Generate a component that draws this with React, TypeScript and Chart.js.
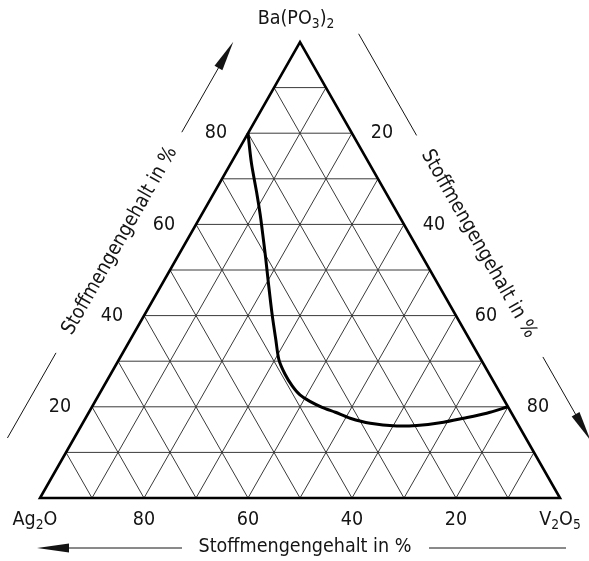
import React, { useEffect, useRef } from "react";
import { Chart, registerables } from "chart.js";

Chart.register(...registerables);

// Components (corners)
const compLeft = [{ t: "Ag" }, { t: "2", sub: true }, { t: "O" }];
const compRight = [{ t: "V" }, { t: "2", sub: true }, { t: "O" }, { t: "5", sub: true }];
const compTop = [{ t: "Ba(PO" }, { t: "3", sub: true }, { t: ")" }, { t: "2", sub: true }];
const axisTitle = "Stoffmengengehalt in %";

// Tick labels (percent)
const leftTicks = [80, 60, 40, 20]; // Ba(PO3)2 content along left edge
const rightTicks = [20, 40, 60, 80]; // V2O5 content along right edge
const bottomTicks = [80, 60, 40, 20]; // Ag2O content along base
const gridLevels = [10, 20, 30, 40, 50, 60, 70, 80, 90];

// Boundary curve: composition in mol-% (Ag2O = 100 - Ba(PO3)2 - V2O5)
const curveBa = [80, 73.5, 67.1, 62.1, 57.7, 52.6, 47.4, 40.6, 34.7, 30.3, 27.2, 24.6, 22.6, 21.2, 19.9, 18.8, 17.5, 16.4, 15.8, 15.9, 16.5, 17.5, 18.6, 20];
const curveV2O5 = [0, 3.9, 8.1, 11.3, 14.0, 17.1, 20.2, 24.3, 28.0, 30.8, 33.5, 36.2, 38.7, 41.3, 44.3, 47.4, 50.9, 55.3, 60.7, 64.5, 68.7, 72.7, 76.6, 80];

const FONT = '"DejaVu Sans", sans-serif';
const FS = 20; // font size
const SUB = 14; // subscript size
const SX = 0.88; // horizontal condensing of the lettering
const INK = "#141414";

type Pt = { x: number; y: number };

function txt(ctx: CanvasRenderingContext2D, s: string, x: number, y: number, rot = 0, size = FS) {
  ctx.save();
  ctx.translate(x, y);
  if (rot) ctx.rotate(rot);
  ctx.scale(SX, 1);
  ctx.font = `${size}px ${FONT}`;
  ctx.textAlign = "center";
  ctx.textBaseline = "middle";
  ctx.fillText(s, 0, 0);
  ctx.restore();
}

function drawRich(ctx: CanvasRenderingContext2D, parts: { t: string; sub?: boolean }[], cx: number, cy: number) {
  const widths = parts.map((p) => {
    ctx.font = `${p.sub ? SUB : FS}px ${FONT}`;
    return ctx.measureText(p.t).width * SX;
  });
  const total = widths.reduce((a, b) => a + b, 0);
  let x = cx - total / 2;
  parts.forEach((p, i) => {
    txt(ctx, p.t, x + widths[i] / 2, p.sub ? cy + 5 : cy, 0, p.sub ? SUB : FS);
    x += widths[i];
  });
}

function arrowHead(ctx: CanvasRenderingContext2D, tip: Pt, dir: Pt, len: number, hw: number) {
  const bx = tip.x - dir.x * len;
  const by = tip.y - dir.y * len;
  const nx = -dir.y;
  const ny = dir.x;
  ctx.beginPath();
  ctx.moveTo(tip.x, tip.y);
  ctx.lineTo(bx + nx * hw, by + ny * hw);
  ctx.lineTo(bx - nx * hw, by - ny * hw);
  ctx.closePath();
  ctx.fill();
}

function seg(ctx: CanvasRenderingContext2D, a: Pt, b: Pt) {
  ctx.beginPath();
  ctx.moveTo(a.x, a.y);
  ctx.lineTo(b.x, b.y);
  ctx.stroke();
}

const ternaryPlugin = {
  id: "ternary",
  beforeDatasetsDraw(chart: any) {
    const { ctx } = chart;
    const xs = chart.scales.x;
    const ys = chart.scales.y;
    const P = (ba: number, v: number): Pt => ({ x: xs.getPixelForValue(v + ba / 2), y: ys.getPixelForValue(ba) });
    ctx.save();
    ctx.strokeStyle = "#3a3a3a";
    ctx.lineWidth = 1;
    for (const g of gridLevels) {
      seg(ctx, P(g, 0), P(g, 100 - g)); // constant Ba(PO3)2
      seg(ctx, P(0, g), P(100 - g, g)); // constant V2O5
      seg(ctx, P(0, 100 - g), P(100 - g, 0)); // constant Ag2O
    }
    ctx.strokeStyle = "#000";
    ctx.lineWidth = 2.6;
    ctx.lineJoin = "miter";
    const A = P(0, 0), V = P(0, 100), B = P(100, 0);
    ctx.beginPath();
    ctx.moveTo(A.x, A.y);
    ctx.lineTo(V.x, V.y);
    ctx.lineTo(B.x, B.y);
    ctx.closePath();
    ctx.stroke();
    ctx.restore();
  },
  afterDraw(chart: any) {
    const { ctx } = chart;
    const xs = chart.scales.x;
    const ys = chart.scales.y;
    const P = (ba: number, v: number): Pt => ({ x: xs.getPixelForValue(v + ba / 2), y: ys.getPixelForValue(ba) });
    const A = P(0, 0), V = P(0, 100), B = P(100, 0);
    ctx.save();
    ctx.fillStyle = INK;
    ctx.strokeStyle = INK;

    // tick labels
    for (const b of leftTicks) {
      const p = P(b, 0);
      txt(ctx, String(b), p.x - 32, p.y);
    }
    for (const v of rightTicks) {
      const p = P(100 - v, v);
      txt(ctx, String(v), p.x + 30, p.y);
    }
    for (const a of bottomTicks) {
      const p = P(0, 100 - a);
      txt(ctx, String(a), p.x, p.y + 22);
    }

    // corner names
    drawRich(ctx, compLeft, A.x - 5, A.y + 22);
    drawRich(ctx, compRight, V.x, V.y + 22);
    drawRich(ctx, compTop, B.x - 4, B.y - 23);

    ctx.lineWidth = 1;
    // left side title + arrow
    {
      const L = Math.hypot(B.x - A.x, B.y - A.y);
      const d = { x: (B.x - A.x) / L, y: (B.y - A.y) / L };
      const n = { x: d.y, y: -d.x };
      const off = 58;
      const at = (s: number): Pt => ({ x: A.x + d.x * s + n.x * off, y: A.y + d.y * s + n.y * off });
      seg(ctx, at(36), at(134));
      seg(ctx, at(388), at(480));
      arrowHead(ctx, at(492), d, 30, 4.5);
      const c = at(263);
      txt(ctx, axisTitle, c.x, c.y, Math.atan2(d.y, d.x));
    }
    // right side title + arrow
    {
      const L = Math.hypot(B.x - V.x, B.y - V.y);
      const d = { x: (B.x - V.x) / L, y: (B.y - V.y) / L };
      const n = { x: -d.y, y: d.x };
      const off = 55;
      const at = (s: number): Pt => ({ x: V.x + d.x * s + n.x * off, y: V.y + d.y * s + n.y * off });
      seg(ctx, at(386), at(503));
      seg(ctx, at(131), at(45));
      arrowHead(ctx, at(35), { x: -d.x, y: -d.y }, 30, 4.5);
      const c = at(261);
      txt(ctx, axisTitle, c.x, c.y, Math.atan2(-d.y, -d.x));
    }
    // bottom title + arrow
    {
      const yb = A.y + 50;
      txt(ctx, axisTitle, 305, yb - 1);
      seg(ctx, { x: 182, y: yb }, { x: 50, y: yb });
      arrowHead(ctx, { x: 37, y: yb }, { x: -1, y: 0 }, 32, 4.5);
      seg(ctx, { x: 429, y: yb }, { x: 566, y: yb });
    }
    ctx.restore();
  },
};

export default function App() {
  const ref = useRef<HTMLCanvasElement | null>(null);
  useEffect(() => {
    if (!ref.current) return;
    const pts = curveBa.map((b, i) => ({ x: curveV2O5[i] + b / 2, y: b }));
    const chart = new Chart(ref.current, {
      type: "scatter",
      data: {
        datasets: [
          {
            data: pts,
            showLine: true,
            borderColor: "#000",
            borderWidth: 3,
            pointRadius: 0,
            tension: 0.3,
            fill: false,
            clip: false as any,
          },
        ],
      },
      options: {
        responsive: false,
        animation: false,
        devicePixelRatio: 1,
        layout: { padding: { left: 40, right: 29, top: 42, bottom: 63 } },
        plugins: { legend: { display: false }, tooltip: { enabled: false }, title: { display: false } },
        scales: {
          x: { type: "linear", min: 0, max: 100, display: false },
          y: { type: "linear", min: 0, max: 100, display: false },
        },
      },
      plugins: [ternaryPlugin as any],
    });
    return () => chart.destroy();
  }, []);
  return (
    <div style={{ position: "absolute", left: 0, top: 0, width: 589, height: 561, background: "#fff" }}>
      <canvas ref={ref} width={589} height={561} style={{ display: "block" }} />
    </div>
  );
}
